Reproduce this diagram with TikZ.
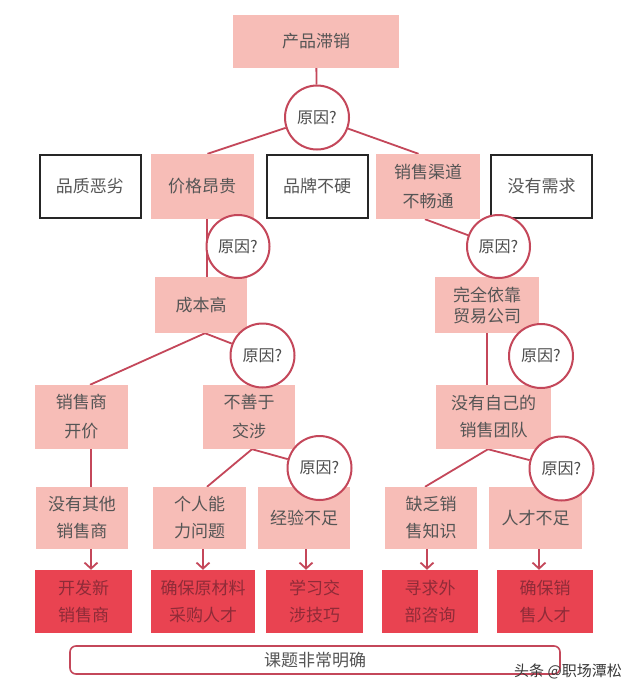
\documentclass[tikz,border=0pt]{standalone}
\usepackage{fontspec}
\setmainfont{Noto Sans CJK SC}
\usetikzlibrary{arrows.meta,backgrounds}
\definecolor{pinkf}{HTML}{F7BDB7}
\definecolor{redf}{HTML}{E94351}
\definecolor{linec}{HTML}{C4475A}
\definecolor{txt}{HTML}{555555}
\definecolor{redtxt}{HTML}{8F2B38}
\begin{document}
\begin{tikzpicture}[x=1pt,y=-1pt,
  base/.style={inner sep=0pt, align=center, text=txt, font=\fontsize{17}{27}\selectfont},
  wide/.style={font=\fontsize{17}{29}\selectfont},
  tight/.style={font=\fontsize{17}{21}\selectfont},
  pinkbox/.style={base, fill=pinkf},
  blackbox/.style={base, draw=black!85, line width=2pt, fill=white},
  redbox/.style={base, fill=redf, text=redtxt},
  why/.style={circle, draw=linec, line width=2pt, fill=white, minimum size=64pt, inner sep=0pt,
              text=black!70, font=\fontsize{16}{16}\selectfont},
  conn/.style={draw=linec, line width=1.8pt},
  arr/.style={conn, -{Straight Barb[length=6pt,width=13pt]}},
  endbox/.style={draw=linec, line width=1.6pt, rounded corners=6pt, inner sep=0pt,
                 text=txt, font=\fontsize{17}{17}\selectfont}
]
\useasboundingbox (0,0) rectangle (640,694);

% row 1
\node[pinkbox, minimum width=166pt, minimum height=53pt] (top) at (316,41.5) {产品滞销};

% row 2
\node[blackbox, minimum width=101pt, minimum height=63pt] (q1) at (90,186.5) {品质恶劣};
\node[pinkbox, minimum width=103pt, minimum height=65pt] (price) at (202,186.5) {价格昂贵};
\node[blackbox, minimum width=101pt, minimum height=63pt] (q3) at (317,186.5) {品牌不硬};
\node[pinkbox, wide, minimum width=104pt, minimum height=65pt] (chan) at (428,186.5) {销售渠道\\不畅通};
\node[blackbox, minimum width=101pt, minimum height=63pt] (q5) at (541.5,186.5) {没有需求};

% row 3
\node[pinkbox, minimum width=92pt, minimum height=56pt] (cost) at (201,305) {成本高};
\node[pinkbox, tight, minimum width=104pt, minimum height=56pt] (dep) at (487,305) {完全依靠\\贸易公司};

% row 4
\node[pinkbox, wide, minimum width=93pt, minimum height=64pt] (sel) at (81.5,417) {销售商\\开价};
\node[pinkbox, wide, minimum width=92pt, minimum height=64pt] (neg) at (249,417) {不善于\\交涉};
\node[pinkbox, minimum width=115pt, minimum height=64pt] (team) at (493.5,417) {没有自己的\\销售团队};

% row 5
\node[pinkbox, minimum width=92pt, minimum height=62pt] (noo) at (82,518) {没有其他\\销售商};
\node[pinkbox, minimum width=93pt, minimum height=62pt] (pers) at (199.5,518) {个人能\\力问题};
\node[pinkbox, minimum width=92pt, minimum height=62pt] (exp) at (304,518) {经验不足};
\node[pinkbox, minimum width=92pt, minimum height=62pt] (lack) at (431,518) {缺乏销\\售知识};
\node[pinkbox, minimum width=93pt, minimum height=62pt] (tal) at (535.5,518) {人才不足};

% row 6
\node[redbox, minimum width=97pt, minimum height=63pt] (dev) at (83.5,601.5) {开发新\\销售商};
\node[redbox, minimum width=104pt, minimum height=63pt] (ens1) at (203,601.5) {确保原材料\\采购人才};
\node[redbox, minimum width=97pt, minimum height=63pt] (learn) at (314.5,601.5) {学习交\\涉技巧};
\node[redbox, minimum width=96pt, minimum height=63pt] (ext) at (430,601.5) {寻求外\\部咨询};
\node[redbox, minimum width=96pt, minimum height=63pt] (ens2) at (545,601.5) {确保销\\售人才};

% bottom
\node[endbox, minimum width=490pt, minimum height=28pt] (goal) at (315,660) {课题非常明确};

% circles
\node[why] (c1) at (317,117.5) {原因?};
\node[why, minimum size=63pt] (c2) at (238,246.5) {原因?};
\node[why, minimum size=63pt] (c3) at (498.5,246.5) {原因?};
\node[why] (c4) at (262.5,355.5) {原因?};
\node[why] (c5) at (541,356) {原因?};
\node[why] (c6) at (319.5,468) {原因?};
\node[why] (c7) at (561.5,468.5) {原因?};

% watermark
\node[text=black!78, font=\fontsize{15}{15}\selectfont, inner sep=0pt] (wm) at (568,671) {头条 @职场潭松};

\begin{scope}[on background layer]
\fill[white] (0,0) rectangle (640,694);
\coordinate (s1) at ([xshift=4pt]cost.south);
\coordinate (s2) at ([xshift=3pt]neg.south);
\coordinate (s3) at ([xshift=-5.5pt]team.south);
\draw[conn] (top) -- (c1);
\draw[conn] (c1) -- ([xshift=5.5pt]price.north);
\draw[conn] (c1) -- ([xshift=-9.5pt]chan.north);
\draw[conn] ([xshift=5pt]price.south) -- ([xshift=6pt]cost.north);
\draw[conn] ([xshift=-3pt]chan.south) -- (c3);
\draw[conn] (s1) -- ([xshift=8.5pt]sel.north);
\draw[conn] (s1) -- (c4);
\draw[conn] (dep.south) -- (dep.south |- team.north);
\draw[conn] (s2) -- ([xshift=7.5pt]pers.north);
\draw[conn] (s2) -- (c6);
\draw[conn] (s3) -- ([xshift=-6pt]lack.north);
\draw[conn] (s3) -- (c7);
\draw[conn] ([xshift=9.5pt]sel.south) -- ([xshift=9pt]noo.north);
\draw[arr] ([xshift=9pt]noo.south) -- ([xshift=7.5pt]dev.north);
\draw[arr] ([xshift=3.5pt]pers.south) -- ([xshift=0pt]ens1.north);
\draw[arr] ([xshift=2pt]exp.south) -- ([xshift=-8.5pt]learn.north);
\draw[arr] ([xshift=-4pt]lack.south) -- ([xshift=-3pt]ext.north);
\draw[arr] ([xshift=3.5pt]tal.south) -- ([xshift=-6pt]ens2.north);
\end{scope}
\end{tikzpicture}
\end{document}
